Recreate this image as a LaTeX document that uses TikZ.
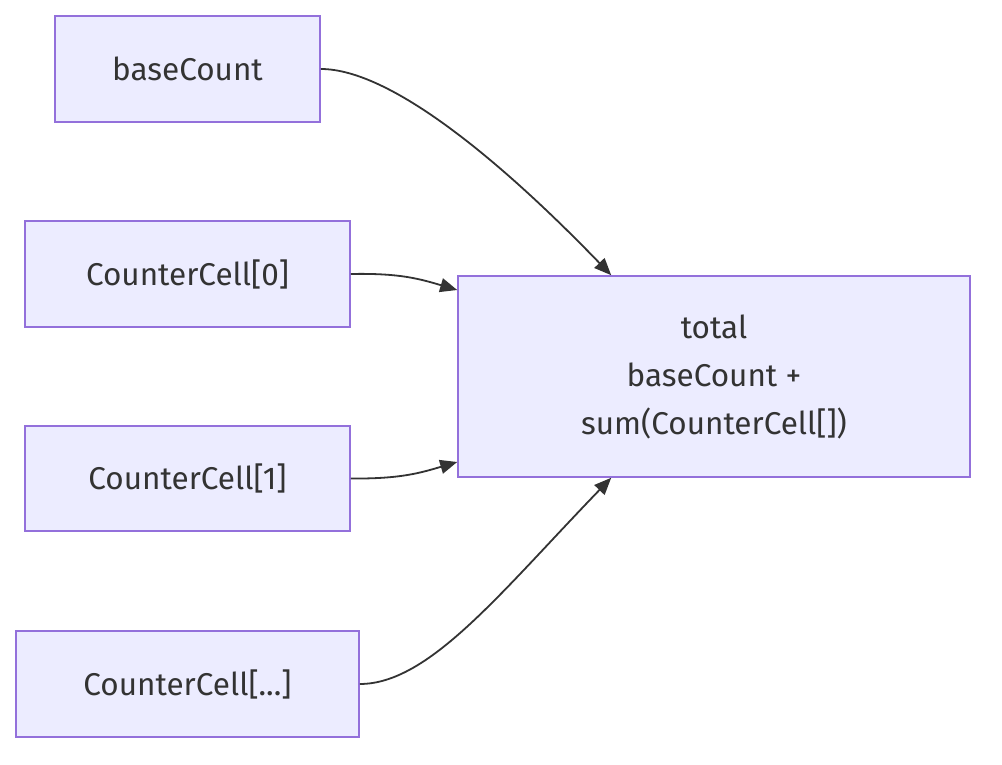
\documentclass[tikz,border=0pt]{standalone}
\usepackage{fontspec}
\setmainfont{Fira Sans}
\usetikzlibrary{arrows.meta,calc}
\definecolor{nodefill}{HTML}{ECECFF}
\definecolor{nodeline}{HTML}{9370DB}
\definecolor{edgecol}{HTML}{333333}
\tikzset{
  box/.style={draw=nodeline, fill=nodefill, line width=1.6pt, inner sep=0pt,
    align=center, font=\fontsize{31.5}{48}\selectfont, text=edgecol},
  edge/.style={draw=edgecol, line width=1.8pt, -{Triangle[length=17pt,width=14pt]}}
}
\begin{document}
\begin{tikzpicture}[x=1pt,y=1pt]
\useasboundingbox (0,0) rectangle (1002,764);
\node[box, minimum width=265pt, minimum height=106pt] (bc) at (187.5,695) {baseCount};
\node[box, minimum width=325pt, minimum height=106pt] (c0) at (187.5,490) {CounterCell[0]};
\node[box, minimum width=325pt, minimum height=105pt] (c1) at (187.5,285.5) {CounterCell[1]};
\node[box, minimum width=343pt, minimum height=106pt] (cd) at (187.5,80) {CounterCell[...]};
\node[box, minimum width=512pt, minimum height=201pt] (total) at (714,387.5) {total\\baseCount +\\sum(CounterCell[])};
\path (total.north west) ++(154,0) coordinate (tin1);
\path (total.south west) ++(154,0) coordinate (tin4);
\path (total.west) ++(0,86.5) coordinate (tin2);
\path (total.west) ++(0,-85.5) coordinate (tin3);
\draw[edge] (bc.east) .. controls (390,695) and (500,604) .. (tin1);
\draw[edge] (c0.east) .. controls (400,491) and (420,485) .. (tin2);
\draw[edge] (c1.east) .. controls (400,285) and (420,291) .. (tin3);
\draw[edge] (cd.east) .. controls (429,80) and (500,171) .. (tin4);
\end{tikzpicture}
\end{document}
